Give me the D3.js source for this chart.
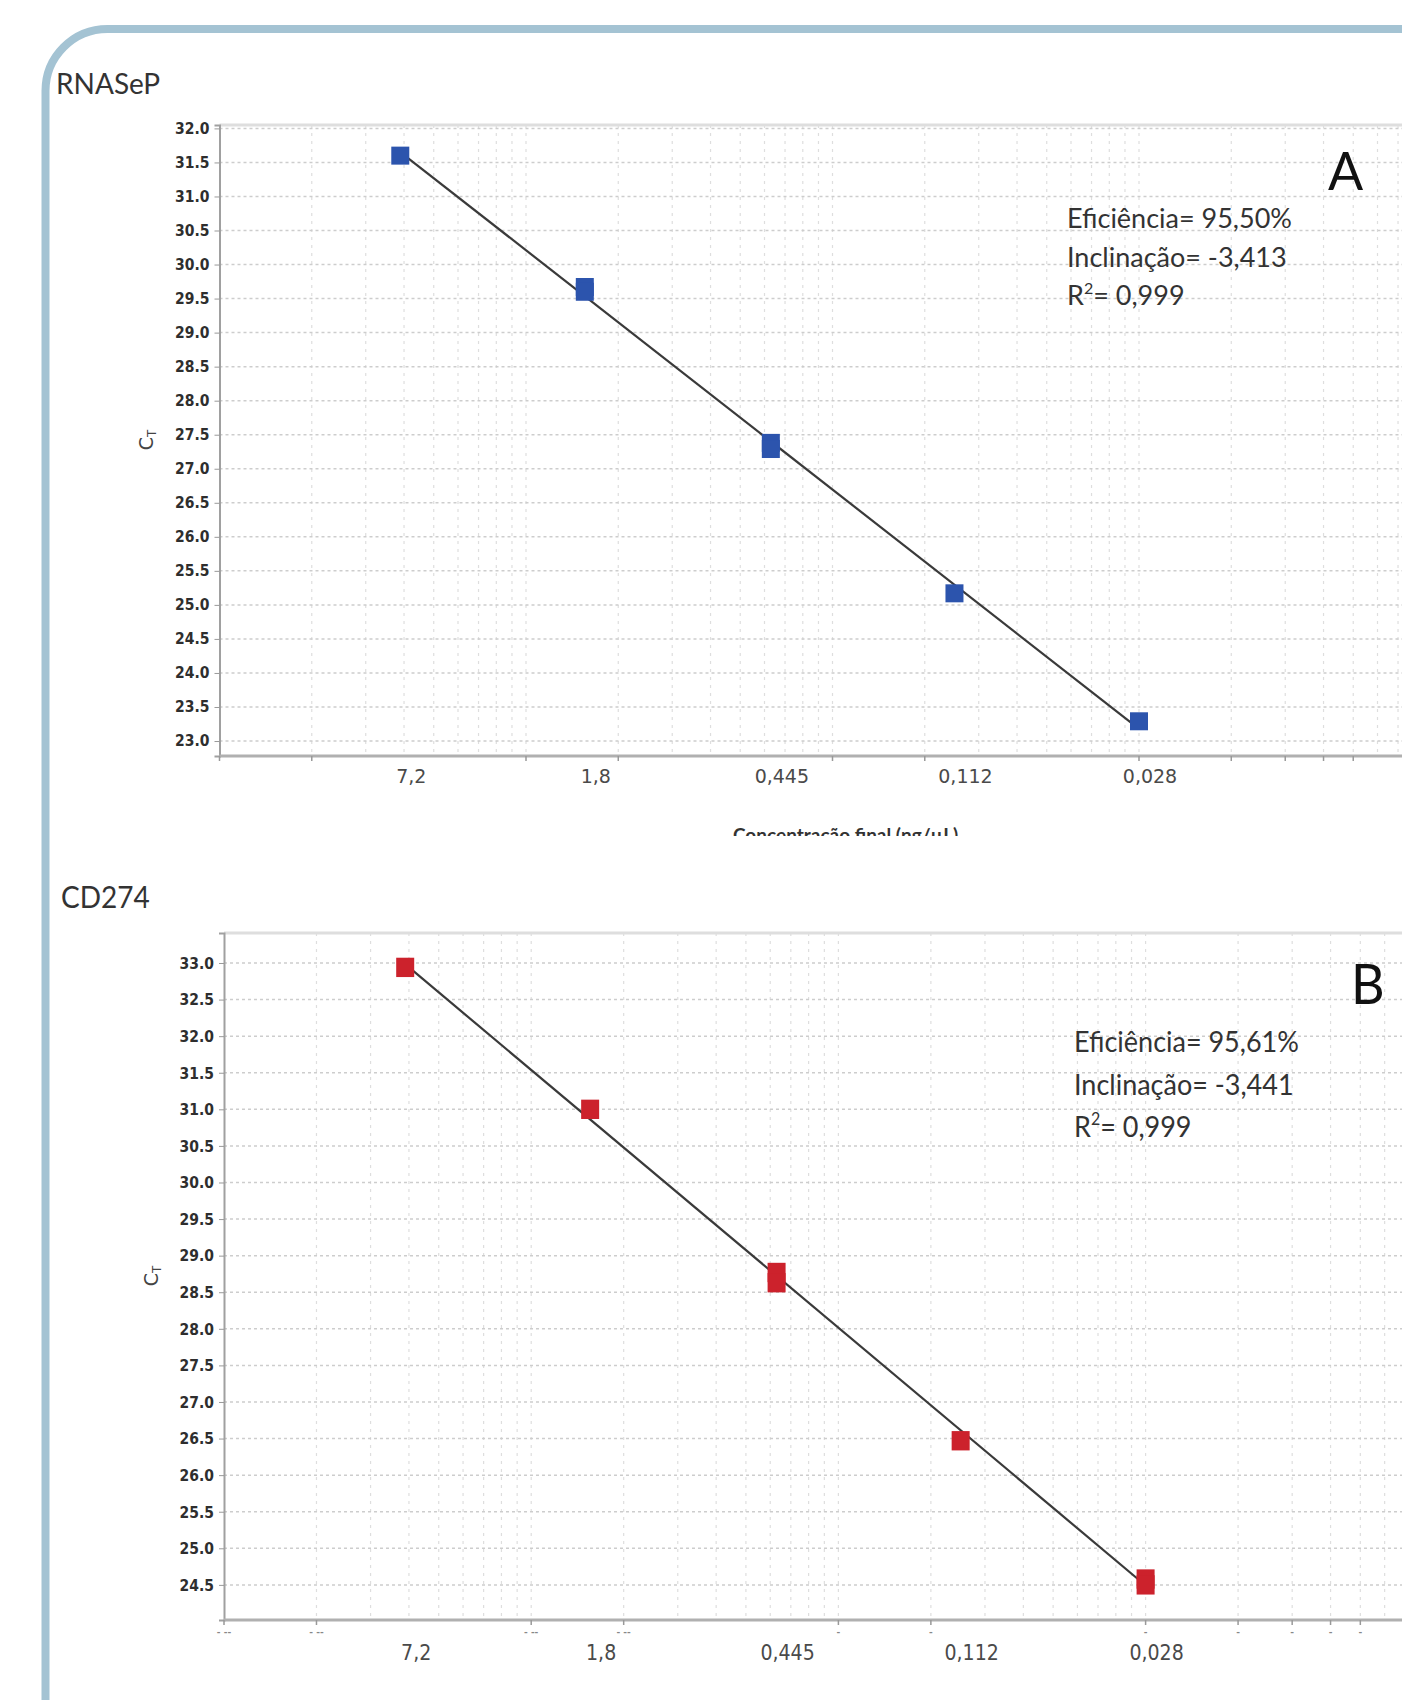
<!DOCTYPE html>
<html>
<head>
<meta charset="utf-8">
<script src="https://cdn.jsdelivr.net/npm/d3@7"></script>
<style>
  body { margin: 0; background: #fff; }
  svg { display: block; }
</style>
</head>
<body>
<script>
// dilution series (final concentration, ng/uL) and the label printed under each point
var conc = [7.2, 1.8, 0.445, 0.112, 0.028];
var concLabels = ["7,2", "1,8", "0,445", "0,112", "0,028"];

// Ct replicates
var ctRNASeP = [[31.60], [29.67, 29.60], [27.38, 27.29], [25.17], [23.29]];
var ctCD274 = [[32.94], [31.00], [28.77, 28.63], [26.47], [24.58, 24.50]];

// y tick labels
var yTicksRNASeP = d3.range(23, 32.01, 0.5);
var yTicksCD274 = d3.range(24.5, 33.01, 0.5);

// efficiency, slope, R2 as printed
var statsRNASeP = ["95,50%", "-3,413", "0,999"];
var statsCD274 = ["95,61%", "-3,441", "0,999"];

// the software axis under the relabelled one: quantity 1 = 28 ng/uL, log spaced
var cAtOne = 28;
var xTickQty = [1, 2, 10, 20, 100, 200, 1000, 2000, 3000, 4000, 5000];

var W = 1402, H = 1700;
var svg = d3.select("body").append("svg")
	.attr("width", W)
	.attr("height", H);

// rounded frame round the figure
var fx = 45.5, fy = 29, fr = 62;
svg.append("path")
	.attr("d", "M" + fx + "," + (H + 10) + " L" + fx + "," + (fy + fr) +
		" A" + fr + "," + fr + " 0 0 1 " + (fx + fr) + "," + fy + " L" + (W + 10) + "," + fy)
	.attr("fill", "none")
	.attr("stroke", "#a4c3d3")
	.attr("stroke-width", 8);

function txt(g, x, y, sy) {
	return g.append("text")
		.attr("transform", "translate(" + x + "," + y + ") scale(1," + sy + ")");
}

function drawPanel(p) {
	var g = svg.append("g");
	var sy = p.sy;

	var x = d3.scaleLog()
		.domain([cAtOne, cAtOne / 1e4])
		.range([p.left, p.left + 4 * p.decade]);
	var y = d3.scaleLinear()
		.domain(p.yDomain)
		.range([p.bottom, p.top]);

	// title
	txt(g, p.titleX, p.titleY, sy)
		.text(p.title)
		.style("font-family", "Lato")
		.style("font-size", "28px")
		.style("fill", "#333");

	// vertical grid (log minor lines of the underlying quantity axis)
	var qty = d3.scaleLog().domain([1, 1e4]).ticks().filter(function (q) { return q > 1; });
	g.append("g").selectAll("line")
		.data(qty)
		.enter().append("line")
		.attr("x1", function (q) { return x(cAtOne / q); })
		.attr("x2", function (q) { return x(cAtOne / q); })
		.attr("y1", p.top)
		.attr("y2", p.bottom)
		.attr("stroke", "#dedede")
		.attr("stroke-width", 1.2)
		.attr("stroke-dasharray", "3,5");

	// horizontal grid
	g.append("g").selectAll("line")
		.data(p.yTicks)
		.enter().append("line")
		.attr("x1", p.left)
		.attr("x2", W)
		.attr("y1", function (d) { return y(d); })
		.attr("y2", function (d) { return y(d); })
		.attr("stroke", "#cdcdcd")
		.attr("stroke-width", 1.5)
		.attr("stroke-dasharray", "3,3");

	// top border of the plot
	g.append("line")
		.attr("x1", p.left).attr("x2", W)
		.attr("y1", p.top).attr("y2", p.top)
		.attr("stroke", "#dedede")
		.attr("stroke-width", 3);

	// y axis
	var yAxis = d3.axisLeft(y)
		.tickValues(p.yTicks)
		.tickSize(5)
		.tickPadding(5)
		.tickFormat(d3.format(".1f"));
	var ya = g.append("g")
		.attr("transform", "translate(" + p.left + ",0)")
		.call(yAxis);
	ya.select(".domain").attr("stroke", "#a0a0a0").attr("stroke-width", 2);
	ya.selectAll(".tick line").attr("stroke", "#999");
	ya.selectAll(".tick text")
		.attr("transform", "scale(1," + sy + ")")
		.style("font-family", "DejaVu Sans Condensed")
		.style("font-weight", "bold")
		.style("font-size", "15.5px")
		.style("fill", "#2e2e2e");

	// x axis: line and small software ticks
	g.append("line")
		.attr("x1", p.left).attr("x2", W)
		.attr("y1", p.bottom).attr("y2", p.bottom)
		.attr("stroke", "#b0b0b0")
		.attr("stroke-width", 3);
	g.append("g").selectAll("line")
		.data(xTickQty)
		.enter().append("line")
		.attr("x1", function (q) { return x(cAtOne / q); })
		.attr("x2", function (q) { return x(cAtOne / q); })
		.attr("y1", p.bottom)
		.attr("y2", p.bottom + 5)
		.attr("stroke", "#999")
		.attr("stroke-width", 1.5);

	// leftovers of the erased software labels
	if (p.ghost) {
		g.append("g").selectAll("text")
			.data(xTickQty)
			.enter().append("text")
			.attr("x", function (q) { return x(cAtOne / q); })
			.attr("y", p.bottom + 15)
			.attr("text-anchor", "middle")
			.style("font-family", "DejaVu Sans")
			.style("font-size", "9px")
			.style("font-weight", "bold")
			.style("fill", "#888")
			.text(function (q, i) { return i < 4 ? "- --" : "-"; });
	}

	// concentration labels
	g.append("g").selectAll("text")
		.data(conc)
		.enter().append("text")
		.attr("transform", function (c) {
			return "translate(" + (x(c) + 11) + "," + p.labelY + ") scale(1," + sy + ")";
		})
		.attr("text-anchor", "middle")
		.style("font-family", "DejaVu Sans")
		.style("font-size", "19px")
		.style("fill", "#4a4a4a")
		.text(function (c, i) { return concLabels[i]; });

	// clipped axis title
	if (p.clipTitle) {
		var cid = "clip-" + p.title;
		svg.append("clipPath").attr("id", cid)
			.append("rect")
			.attr("x", 0).attr("y", 0)
			.attr("width", W).attr("height", p.clipTitle);
		g.append("text")
			.attr("clip-path", "url(#" + cid + ")")
			.attr("x", 733)
			.attr("y", p.clipTitle + 6)
			.style("font-family", "Lato")
			.style("font-weight", "bold")
			.style("font-size", "19px")
			.style("fill", "#333")
			.text("Concentração final (ng/µL)");
	}

	// Ct axis label
	var ct = g.append("text")
		.attr("transform", "translate(" + p.ctX + "," + p.ctY + ") rotate(-90)")
		.attr("text-anchor", "middle")
		.style("font-family", "DejaVu Sans")
		.style("font-size", "19px")
		.style("fill", "#444");
	ct.append("tspan").text("C");
	ct.append("tspan").attr("dy", 3).style("font-size", "12px").text("T");

	// regression of Ct on log10(concentration)
	var pts = [];
	conc.forEach(function (c, i) {
		p.ct[i].forEach(function (v) { pts.push([Math.log10(c), v]); });
	});
	var mx = d3.mean(pts, function (d) { return d[0]; });
	var my = d3.mean(pts, function (d) { return d[1]; });
	var slope = d3.sum(pts, function (d) { return (d[0] - mx) * (d[1] - my); }) /
		d3.sum(pts, function (d) { return (d[0] - mx) * (d[0] - mx); });
	var icpt = my - slope * mx;
	var ends = [conc[0], conc[conc.length - 1]];
	g.append("path")
		.datum(ends)
		.attr("d", d3.line()
			.x(function (c) { return x(c); })
			.y(function (c) { return y(icpt + slope * Math.log10(c)); }))
		.attr("fill", "none")
		.attr("stroke", "#3a3a3a")
		.attr("stroke-width", 2.2);

	// markers
	var marks = [];
	conc.forEach(function (c, i) {
		p.ct[i].forEach(function (v) { marks.push({ c: c, v: v }); });
	});
	var mw = 18, mh = 18 * sy;
	g.append("g").selectAll("rect")
		.data(marks)
		.enter().append("rect")
		.attr("x", function (d) { return x(d.c) - mw / 2; })
		.attr("y", function (d) { return y(d.v) - mh / 2; })
		.attr("width", mw)
		.attr("height", mh)
		.attr("fill", p.color);

	// stats block
	var lines = [
		["Eficiência= ", p.stats[0]],
		["Inclinação= ", p.stats[1]],
		["R", p.stats[2]]
	];
	lines.forEach(function (l, i) {
		var t = txt(g, p.statsX, p.statsY + i * p.statsGap, sy)
			.style("font-family", "Lato")
			.style("font-size", "27px")
			.style("fill", "#333");
		if (i < 2) {
			t.text(l[0] + l[1]);
		} else {
			t.append("tspan").text("R");
			t.append("tspan").attr("dy", -11).style("font-size", "16px").text("2");
			t.append("tspan").attr("dy", 11).text("= " + l[1]);
		}
	});

	// panel letter
	txt(g, p.letterX, p.letterY, sy)
		.text(p.letter)
		.style("font-family", "Lato")
		.style("font-size", "52px")
		.style("fill", "#111");
}

drawPanel({
	title: "RNASeP", titleX: 56, titleY: 94,
	left: 219.5, decade: 306.5, top: 125, bottom: 756,
	yDomain: [22.78, 32.05], yTicks: yTicksRNASeP,
	ct: ctRNASeP, color: "#2c54ad", sy: 1,
	labelY: 783, ctX: 153, ctY: 440, clipTitle: 836,
	stats: statsRNASeP, statsX: 1067, statsY: 228, statsGap: 38.5,
	letter: "A", letterX: 1328, letterY: 190, ghost: false
});

drawPanel({
	title: "CD274", titleX: 61, titleY: 908,
	left: 224, decade: 307.2, top: 933, bottom: 1620,
	yDomain: [24.02, 33.41], yTicks: yTicksCD274,
	ct: ctCD274, color: "#cc222c", sy: 1.074,
	labelY: 1660, ctX: 158, ctY: 1276, clipTitle: 0,
	stats: statsCD274, statsX: 1074, statsY: 1052, statsGap: 42.5,
	letter: "B", letterX: 1351, letterY: 1004, ghost: true
});
</script>
</body>
</html>
